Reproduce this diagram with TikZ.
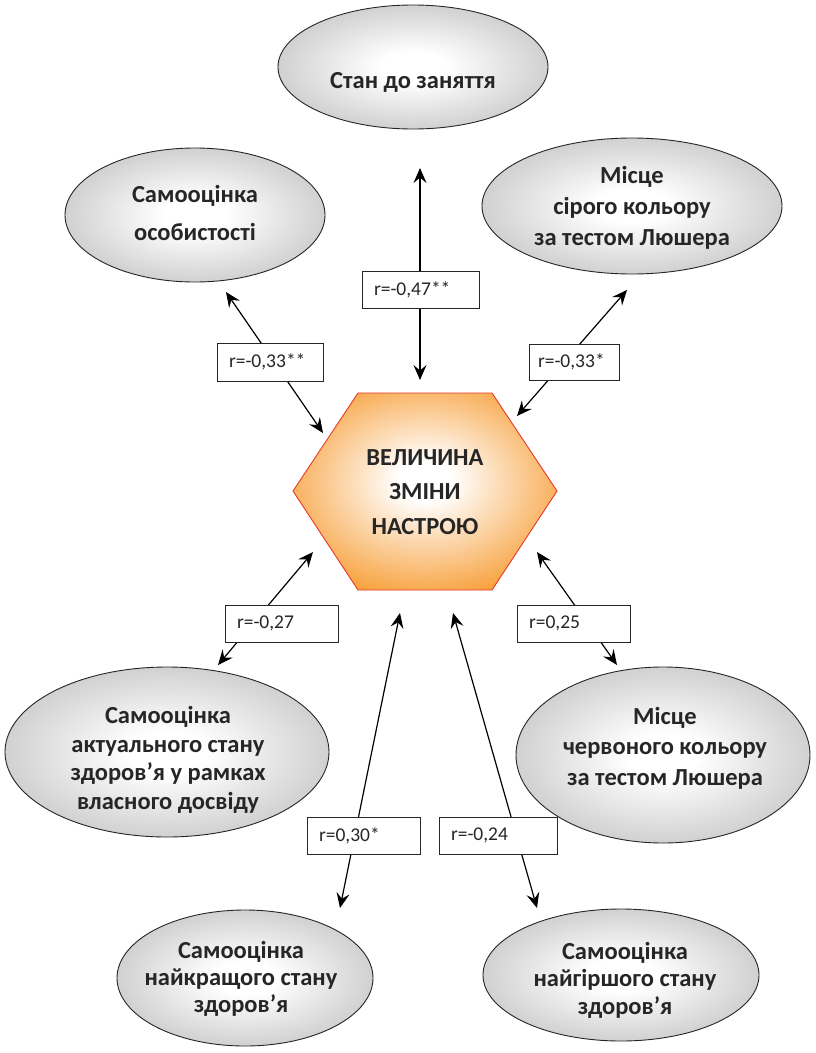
\documentclass[tikz,border=0pt]{standalone}
\usepackage{fontspec}
\setmainfont{Carlito}
\usetikzlibrary{shapes.geometric,arrows.meta}
\definecolor{hexor}{RGB}{246,146,30}
\definecolor{hexred}{RGB}{232,56,40}
\definecolor{txt}{RGB}{38,38,38}
\pgfdeclareradialshading{ellsh}{\pgfpoint{0bp}{0bp}}{color(0bp)=(white); color(6bp)=(white); color(50bp)=(black!42); color(70bp)=(black!42)}
\pgfdeclareradialshading{hexsh}{\pgfpoint{0bp}{3bp}}{color(0bp)=(white); color(5bp)=(white); color(33bp)=(hexor); color(70bp)=(hexor)}
\tikzset{
  ell/.style={ellipse, draw=black!85, line width=0.9pt, shading=ellsh, inner sep=0pt},
  etxt/.style={align=center, text=txt, inner sep=0pt},
  lab/.style={draw=black!85, fill=white, line width=0.9pt, minimum height=37pt,
    inner xsep=12pt, inner ysep=0pt, align=left, text=txt,
    font=\fontsize{19.5}{23}\selectfont},
  conn/.style={line width=1.2pt, black,
    {Stealth[length=15pt,width=13pt,inset=5.5pt]}-{Stealth[length=15pt,width=13pt,inset=5.5pt]}}
}
\newcommand{\bfs}[1]{\bfseries\fontsize{24.5}{#1}\selectfont}
\begin{document}
\begin{tikzpicture}[x=1pt,y=-1pt]
\useasboundingbox[fill=white] (0,0) rectangle (816,1053);

% ellipses
\node[ell, minimum width=270pt, minimum height=124pt] (e1) at (413,67) {};
\node[ell, minimum width=260pt, minimum height=134pt] (e2) at (195,215) {};
\node[ell, minimum width=300pt, minimum height=136pt] (e3) at (632,206) {};
\node[ell, minimum width=324pt, minimum height=170pt] (e4) at (167,752) {};
\node[ell, minimum width=294pt, minimum height=176pt] (e5) at (663,755) {};
\node[ell, minimum width=256pt, minimum height=136pt] (e6) at (245,978) {};
\node[ell, minimum width=276pt, minimum height=132pt] (e7) at (621,975) {};

% hexagon
\shadedraw[shading=hexsh, draw=hexred, line width=0.9pt]
  (293,491) -- (358,393) -- (492,393) -- (557,491) -- (492,590) -- (358,590) -- cycle;

% texts
\node[etxt, font=\bfs{28}] (t1) at (413,82) {Стан до заняття};
\node[etxt, font=\bfs{38}] (t2) at (195,213) {Самооцінка\\особистості};
\node[etxt, font=\bfs{31}] (t3) at (632,208) {Місце\\сірого кольору\\за тестом Люшера};
\node[etxt, font=\bfs{28.5}] (t4) at (168,760) {Самооцінка\\актуального стану\\здоров’я у рамках\\власного досвіду};
\node[etxt, font=\bfs{30.5}] (t5) at (665,748) {Місце\\червоного кольору\\за тестом Люшера};
\node[etxt, font=\bfs{27}] (t6) at (241,979) {Самооцінка\\найкращого стану\\здоров’я};
\node[etxt, font=\bfs{27.5}] (t7) at (625,980) {Самооцінка\\найгіршого стану\\здоров’я};
\node[etxt, font=\bfs{34.5}] (hex) at (425,492) {ВЕЛИЧИНА\\ЗМІНИ\\НАСТРОЮ};

% arrow end points
\coordinate (a1) at (420,168); \coordinate (b1) at (420,380);
\coordinate (a2) at (226,292); \coordinate (b2) at (323,433);
\coordinate (a3) at (627,290); \coordinate (b3) at (517,416);
\coordinate (a4) at (313,552); \coordinate (b4) at (218,665);
\coordinate (a5) at (537,552); \coordinate (b5) at (617,665);
\coordinate (a6) at (400,613); \coordinate (b6) at (340,908);
\coordinate (a7) at (453,613); \coordinate (b7) at (537,908);

\foreach \i in {1,...,7} { \draw[conn] (a\i) -- (b\i); }

% labels
\node[lab, text width=93pt] (l1) at (420.5,290) {r=-0,47**};
\node[lab, text width=82pt, minimum height=38pt] (l2) at (270,362) {r=-0,33**};
\node[lab, inner xsep=9pt, text width=72pt, minimum height=36pt] (l3) at (574,362) {\mbox{r=-0,33*}};
\node[lab, text width=89pt] (l4) at (281.5,623.5) {r=-0,27};
\node[lab, text width=89pt] (l5) at (573.5,623.5) {r=0,25};
\node[lab, text width=89pt] (l6) at (363.5,835.5) {r=0,30*};
\node[lab, text width=94pt] (l7) at (498,835.5) {r=-0,24};
\end{tikzpicture}
\end{document}
